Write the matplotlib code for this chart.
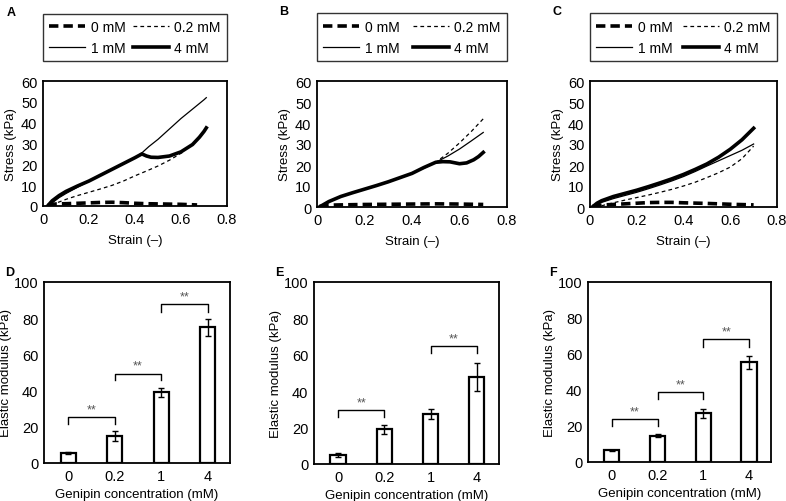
import matplotlib
matplotlib.use("Agg")
import matplotlib.pyplot as plt
import numpy as np

plt.rcParams['font.family'] = ['Liberation Sans', 'DejaVu Sans']
plt.rcParams['font.size'] = 9.5

# stress-strain curves (strain, stress in kPa)
a_0mM_x = [0.02, 0.04, 0.06, 0.1, 0.15, 0.2, 0.25, 0.3, 0.35, 0.4, 0.45, 0.5, 0.55, 0.6, 0.67]
a_0mM_y = [0.2, 0.8, 1.0, 1.1, 1.3, 1.5, 1.7, 1.8, 1.6, 1.3, 1.1, 1.0, 0.9, 0.8, 0.5]
a_02mM_x = [0.04, 0.06, 0.1, 0.15, 0.2, 0.25, 0.3, 0.35, 0.4, 0.45, 0.5, 0.55, 0.6, 0.61]
a_02mM_y = [0.0, 1.5, 3.2, 5.0, 6.6, 8.2, 9.9, 12.0, 14.5, 16.8, 19.2, 22.0, 25.3, 26.0]
a_1mM_x = [0.02, 0.04, 0.07, 0.1, 0.15, 0.2, 0.25, 0.3, 0.35, 0.4, 0.43, 0.46, 0.5, 0.55, 0.6, 0.65, 0.7, 0.71]
a_1mM_y = [0.0, 1.5, 4.0, 6.0, 9.0, 12.0, 14.8, 17.5, 20.3, 23.2, 25.5, 28.5, 32.0, 37.0, 42.0, 46.5, 51.0, 52.0]
a_4mM_x = [0.02, 0.04, 0.07, 0.1, 0.15, 0.2, 0.25, 0.3, 0.35, 0.4, 0.43, 0.45, 0.47, 0.5, 0.55, 0.6, 0.65, 0.68, 0.7, 0.71]
a_4mM_y = [0.0, 2.5, 5.0, 7.0, 9.6, 12.0, 14.8, 17.6, 20.4, 23.2, 25.0, 24.0, 23.4, 23.3, 24.0, 26.0, 29.5, 33.0, 35.8, 37.5]

b_0mM_x = [0.01, 0.03, 0.06, 0.1, 0.2, 0.3, 0.4, 0.5, 0.6, 0.65, 0.7]
b_0mM_y = [0.2, 0.6, 0.9, 1.0, 1.2, 1.3, 1.4, 1.5, 1.4, 1.3, 1.2]
b_02mM_x = [0.01, 0.05, 0.1, 0.15, 0.2, 0.25, 0.3, 0.35, 0.4, 0.45, 0.5, 0.55, 0.6, 0.65, 0.7]
b_02mM_y = [0.0, 2.6, 5.0, 6.8, 8.5, 10.2, 12.0, 14.0, 16.0, 18.5, 21.3, 25.5, 30.5, 36.0, 42.0]
b_1mM_x = [0.01, 0.05, 0.1, 0.15, 0.2, 0.25, 0.3, 0.35, 0.4, 0.45, 0.5, 0.55, 0.6, 0.65, 0.7]
b_1mM_y = [0.0, 2.6, 5.0, 6.8, 8.5, 10.2, 12.0, 14.0, 16.0, 18.5, 21.3, 24.2, 27.6, 31.5, 35.5]
b_4mM_x = [0.01, 0.05, 0.1, 0.15, 0.2, 0.25, 0.3, 0.35, 0.4, 0.45, 0.5, 0.53, 0.56, 0.6, 0.63, 0.66, 0.68, 0.7]
b_4mM_y = [0.0, 2.6, 5.0, 6.8, 8.5, 10.2, 12.0, 14.0, 16.0, 18.8, 21.3, 21.6, 21.5, 20.6, 21.0, 22.5, 24.0, 26.0]

c_0mM_x = [0.01, 0.03, 0.06, 0.1, 0.15, 0.2, 0.25, 0.3, 0.35, 0.4, 0.5, 0.6, 0.7]
c_0mM_y = [0.2, 0.6, 1.0, 1.2, 1.5, 1.8, 2.1, 2.2, 2.2, 2.0, 1.7, 1.3, 1.0]
c_02mM_x = [0.02, 0.05, 0.1, 0.15, 0.2, 0.25, 0.3, 0.35, 0.4, 0.45, 0.5, 0.55, 0.6, 0.65, 0.7]
c_02mM_y = [0.0, 0.6, 2.0, 3.3, 4.5, 5.7, 7.0, 8.4, 10.0, 11.8, 14.0, 16.3, 19.0, 23.0, 29.0]
c_1mM_x = [0.01, 0.03, 0.05, 0.1, 0.15, 0.2, 0.25, 0.3, 0.35, 0.4, 0.45, 0.5, 0.55, 0.6, 0.65, 0.7]
c_1mM_y = [0.0, 1.2, 2.2, 4.0, 5.5, 7.0, 8.7, 10.5, 12.4, 14.5, 16.9, 19.5, 22.0, 24.5, 27.0, 30.0]
c_4mM_x = [0.01, 0.03, 0.05, 0.1, 0.15, 0.2, 0.25, 0.3, 0.35, 0.4, 0.45, 0.5, 0.55, 0.6, 0.65, 0.7]
c_4mM_y = [0.0, 1.8, 3.0, 5.0, 6.5, 8.0, 9.7, 11.5, 13.4, 15.5, 17.9, 20.5, 23.7, 27.5, 32.0, 37.5]

# elastic modulus bars
conc_labels = ["0", "0.2", "1", "4"]
d_mean = [5.5, 14.7, 39.2, 75.0]
d_err = [0.5, 2.8, 2.5, 4.7]
e_mean = [5.0, 19.0, 27.5, 47.7]
e_err = [1.0, 2.3, 2.5, 7.8]
f_mean = [6.5, 14.7, 27.0, 55.4]
f_err = [0.3, 0.9, 2.6, 3.7]

# significance brackets: (left idx, right idx, bar height, leg bottom)
d_sig = [(0, 1, 25.4, 21.6), (1, 2, 49.4, 45.7), (2, 3, 87.7, 83.4)]
e_sig = [(0, 1, 29.4, 25.7), (2, 3, 64.8, 61.0)]
f_sig = [(0, 1, 23.8, 20.0), (1, 2, 38.7, 35.0), (2, 3, 68.4, 63.8)]

W, H = 786, 502
fig = plt.figure(figsize=(W / 100, H / 100), dpi=100)


def axes_px(l, t, r, b):
    return fig.add_axes([l / W, 1 - b / H, (r - l) / W, (b - t) / H])


def style(ax):
    for s in ax.spines.values():
        s.set_linewidth(1.3)
    ax.tick_params(length=0, pad=4, labelsize=10.5)


def curve_panel(ax, curves, letter):
    (x0, y0), (x2, y2), (x1, y1), (x4, y4) = curves
    h0, = ax.plot(x0, y0, color='black', lw=2.6, dashes=(2.6, 1.4), label='0 mM')
    h2, = ax.plot(x2, y2, color='black', lw=0.9, dashes=(3, 2.5), label='0.2 mM')
    h1, = ax.plot(x1, y1, color='black', lw=0.9, label='1 mM')
    h4, = ax.plot(x4, y4, color='black', lw=2.6, label='4 mM')
    ax.set_xlim(0, 0.8)
    ax.set_ylim(0, 60)
    ax.set_xticks([0, 0.2, 0.4, 0.6, 0.8])
    ax.set_xticklabels(["0", "0.2", "0.4", "0.6", "0.8"])
    ax.set_yticks(range(0, 61, 10))
    ax.set_xlabel("Strain (\u2013)", labelpad=6)
    ax.set_ylabel("Stress (kPa)", labelpad=3)
    style(ax)
    leg = ax.legend(handles=[h0, h1, h2, h4], ncol=2, loc='lower left',
                    bbox_to_anchor=(0, 1.16, 1, 0.3), mode='expand',
                    borderaxespad=0, frameon=True, fancybox=False,
                    edgecolor='black', handlelength=2.6, handletextpad=0.4,
                    columnspacing=1.0, labelspacing=0.5, borderpad=0.45,
                    fontsize=10)
    leg.get_frame().set_linewidth(1.0)
    ax.text(-0.2, 1.6, letter, transform=ax.transAxes, fontsize=9,
            fontweight='bold', va='top', ha='left')


def bar_panel(ax, mean, err, sig, letter):
    pos = np.arange(len(conc_labels))
    ax.bar(pos, mean, width=0.33, color='white', edgecolor='black', lw=1.6,
           yerr=err, capsize=2.5, error_kw=dict(elinewidth=1.0, capthick=1.0, ecolor='black'))
    for i, j, top, bot in sig:
        ax.plot([pos[i], pos[i], pos[j], pos[j]], [bot, top, top, bot],
                color='black', lw=1.0)
        ax.text((pos[i] + pos[j]) / 2, top + 1.0, "**", ha='center', va='bottom',
                fontsize=9, color='#555555')
    ax.set_xlim(-0.52, 3.48)
    ax.set_ylim(0, 100)
    ax.set_xticks(pos)
    ax.set_xticklabels(conc_labels)
    ax.set_yticks(range(0, 101, 20))
    ax.set_xlabel("Genipin concentration (mM)", labelpad=4)
    ax.set_ylabel("Elastic modulus (kPa)", labelpad=1)
    style(ax)
    ax.text(-0.21, 1.09, letter, transform=ax.transAxes, fontsize=9,
            fontweight='bold', va='top', ha='left')


axA = axes_px(43, 82, 227, 207)
axB = axes_px(317, 82, 507, 208)
axC = axes_px(590, 82, 777, 208)
axD = axes_px(44, 283, 230, 464)
axE = axes_px(314, 283, 499, 465)
axF = axes_px(588, 283, 771, 463)

curve_panel(axA, [(a_0mM_x, a_0mM_y), (a_02mM_x, a_02mM_y), (a_1mM_x, a_1mM_y), (a_4mM_x, a_4mM_y)], "A")
curve_panel(axB, [(b_0mM_x, b_0mM_y), (b_02mM_x, b_02mM_y), (b_1mM_x, b_1mM_y), (b_4mM_x, b_4mM_y)], "B")
curve_panel(axC, [(c_0mM_x, c_0mM_y), (c_02mM_x, c_02mM_y), (c_1mM_x, c_1mM_y), (c_4mM_x, c_4mM_y)], "C")
bar_panel(axD, d_mean, d_err, d_sig, "D")
bar_panel(axE, e_mean, e_err, e_sig, "E")
bar_panel(axF, f_mean, f_err, f_sig, "F")

fig.savefig("out.png", dpi=100)
